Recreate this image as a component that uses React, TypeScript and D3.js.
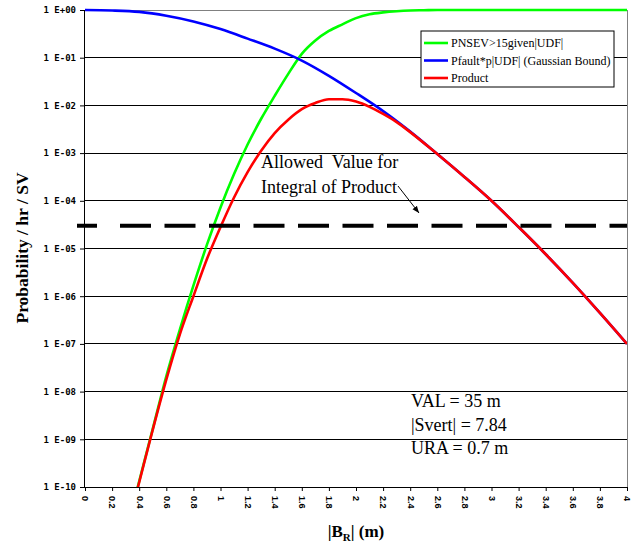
import { useRef, useEffect } from 'react'
import * as d3 from 'd3'

// values, as log10 of the probability
const xGrid = [0.3, 0.4, 0.5, 0.6, 0.7, 0.8, 0.9, 1.0, 1.1, 1.2, 1.3, 1.4, 1.5, 1.6, 1.7, 1.8, 1.9, 2.0, 2.1, 2.2, 2.3, 2.4, 2.5, 2.6]
const greenLog = [-11.0, -9.88, -8.78, -7.68, -6.70, -5.78, -4.92, -4.14, -3.44, -2.82, -2.28, -1.80, -1.34, -0.92, -0.64, -0.44, -0.30, -0.17, -0.09, -0.05, -0.025, -0.01, -0.005, 0]
const greenTailX = [2.8, 3.0, 3.2, 3.4, 3.6, 3.8, 4.0]
const greenTailLog = [0, 0, 0, 0, 0, 0, 0]

const blueX = [0, 0.2, 0.4, 0.6, 0.8, 1.0, 1.2, 1.4, 1.6, 1.8, 2.0, 2.2, 2.4, 2.6, 2.8, 3.0, 3.2, 3.4, 3.6, 3.8, 4.0]
const blueLog = [0, -0.01, -0.04, -0.12, -0.24, -0.40, -0.60, -0.81, -1.06, -1.38, -1.74, -2.12, -2.55, -3.02, -3.50, -4.00, -4.55, -5.12, -5.72, -6.35, -7.0]

const redX = [0.3, 0.4, 0.5, 0.6, 0.7, 0.8, 0.9, 1.0, 1.1, 1.2, 1.3, 1.4, 1.5, 1.6, 1.7, 1.8, 1.9, 2.0, 2.1, 2.2, 2.3, 2.4, 2.6, 2.8, 3.0, 3.2, 3.4, 3.6, 3.8, 4.0]
const redLog = [-11.0, -9.9, -8.8, -7.75, -6.8, -6.0, -5.22, -4.55, -3.93, -3.40, -2.95, -2.58, -2.30, -2.08, -1.95, -1.87, -1.87, -1.92, -2.03, -2.18, -2.35, -2.56, -3.02, -3.50, -4.00, -4.55, -5.12, -5.72, -6.35, -7.0]

const allowedValue = 3e-5

const xTickLabels = ['0', '0.2', '0.4', '0.6', '0.8', '1', '1.2', '1.4', '1.6', '1.8', '2', '2.2', '2.4', '2.6', '2.8', '3', '3.2', '3.4', '3.6', '3.8', '4']
const yTickValues = [1, 1e-1, 1e-2, 1e-3, 1e-4, 1e-5, 1e-6, 1e-7, 1e-8, 1e-9, 1e-10]
const yTickLabels = ['1 E+00', '1 E-01', '1 E-02', '1 E-03', '1 E-04', '1 E-05', '1 E-06', '1 E-07', '1 E-08', '1 E-09', '1 E-10']

const seriesNames = ['PNSEV>15given|UDF|', 'Pfault*p|UDF| (Gaussian Bound)', 'Product']
const seriesColors = ['#00ff00', '#0000ff', '#ff0000']

const notes = ['VAL = 35 m', '|Svert| = 7.84', 'URA = 0.7 m']

const serif = '"Times New Roman", "Liberation Serif", serif'

const App = () => {
    const svgRef = useRef<SVGSVGElement>(null)

    useEffect(() => {
        const w = 634
        const h = 544
        const m = { top: 10, right: 7, bottom: 57, left: 85 }
        const svg = d3.select(svgRef.current)
        svg.selectAll('*').remove()
        svg.attr('width', w).attr('height', h)

        const xScale = d3.scaleLinear().domain([0, 4]).range([m.left, w - m.right])
        const yScale = d3.scaleLog().domain([1e-10, 1]).range([h - m.bottom, m.top])
        const x0 = m.left, x1 = w - m.right, y0 = m.top, y1 = h - m.bottom

        svg.append('rect').attr('width', w).attr('height', h).attr('fill', '#fff')

        // horizontal gridlines
        svg.append('g')
            .selectAll('line')
            .data(yTickValues)
            .join('line')
                .attr('x1', x0).attr('x2', x1)
                .attr('y1', d => yScale(d)).attr('y2', d => yScale(d))
                .attr('stroke', '#000')
                .attr('stroke-width', 1)
                .attr('shape-rendering', 'crispEdges')

        // plot area border (top and right are grey)
        svg.append('line').attr('x1', x0).attr('x2', x1).attr('y1', y0).attr('y2', y0)
            .attr('stroke', '#808080').attr('shape-rendering', 'crispEdges')
        svg.append('line').attr('x1', x1).attr('x2', x1).attr('y1', y0).attr('y2', y1)
            .attr('stroke', '#808080').attr('shape-rendering', 'crispEdges')

        // axes
        const yAxis = d3.axisLeft(yScale)
            .tickValues(yTickValues)
            .tickFormat((d, i) => yTickLabels[i])
            .tickSize(5)
            .tickPadding(4)
        const gy = svg.append('g').attr('transform', `translate(${x0},0)`).call(yAxis)
        gy.select('.domain').attr('stroke', '#000').attr('d', `M-0.5,${y0}V${y1}`)
        gy.selectAll('.tick line').attr('stroke', '#000')
        gy.selectAll('.tick text')
            .attr('font-family', '"DejaVu Sans Mono", monospace')
            .attr('font-weight', 'bold')
            .attr('font-size', 9)
            .attr('fill', '#000')

        const xAxis = d3.axisBottom(xScale)
            .tickValues(xTickLabels.map(Number))
            .tickFormat((d, i) => xTickLabels[i])
            .tickSize(4)
        const gx = svg.append('g').attr('transform', `translate(0,${y1})`).call(xAxis)
        gx.select('.domain').attr('stroke', '#000').attr('d', `M${x0},0.5H${x1}`)
        gx.selectAll('.tick line').attr('stroke', '#000')
        gx.selectAll('.tick text')
            .attr('font-family', '"Liberation Sans", Arial, sans-serif')
            .attr('font-weight', 'bold')
            .attr('font-size', 9)
            .attr('fill', '#000')
            .attr('text-anchor', 'start')
            .attr('dy', '0.35em')
            .attr('transform', 'translate(0,9) rotate(90)')
            .attr('x', 0)
            .attr('y', 0)

        // curves
        svg.append('clipPath').attr('id', 'plotclip')
            .append('rect').attr('x', x0).attr('y', y0 - 2).attr('width', x1 - x0).attr('height', y1 - y0 + 2)

        const line = d3.line<[number, number]>()
            .x(d => xScale(d[0]))
            .y(d => yScale(Math.pow(10, d[1])))
            .curve(d3.curveMonotoneX)

        const green = xGrid.map((x, i) => [x, greenLog[i]] as [number, number])
            .concat(greenTailX.map((x, i) => [x, greenTailLog[i]] as [number, number]))
        const blue = blueX.map((x, i) => [x, blueLog[i]] as [number, number])
        const red = redX.map((x, i) => [x, redLog[i]] as [number, number])

        const curves = svg.append('g').attr('clip-path', 'url(#plotclip)')
        curves.selectAll('path')
            .data([green, blue, red])
            .join('path')
                .attr('d', d => line(d))
                .attr('fill', 'none')
                .attr('stroke', (d, i) => seriesColors[i])
                .attr('stroke-width', 2.6)

        // allowed value line: a short first dash poking past the axis, then a regular pattern
        const ya = yScale(allowedValue)
        const dashG = svg.append('g').attr('stroke', '#000').attr('stroke-width', 4)
        dashG.append('line')
            .attr('x1', 77).attr('x2', 97)
            .attr('y1', ya).attr('y2', ya)
        dashG.append('line')
            .attr('x1', 120).attr('x2', x1)
            .attr('y1', ya).attr('y2', ya)
            .attr('stroke-dasharray', '31 13.5')

        // annotation
        const ann = svg.append('text')
            .attr('font-family', serif)
            .attr('font-size', 18)
            .attr('fill', '#000')
            .style('white-space', 'pre')
        ann.append('tspan').attr('x', 261).attr('y', 168).text('Allowed  Value for')
        ann.append('tspan').attr('x', 261).attr('y', 193).text('Integral of Product')

        svg.append('defs').append('marker')
            .attr('id', 'arrow')
            .attr('viewBox', '0 0 10 10')
            .attr('refX', 10).attr('refY', 5)
            .attr('markerWidth', 7).attr('markerHeight', 7)
            .attr('orient', 'auto')
            .append('path').attr('d', 'M0,1L10,5L0,9Z').attr('fill', '#000')
        svg.append('line')
            .attr('x1', 398).attr('y1', 186)
            .attr('x2', 419).attr('y2', 213)
            .attr('stroke', '#000').attr('stroke-width', 1)
            .attr('marker-end', 'url(#arrow)')

        // notes
        svg.append('g')
            .selectAll('text')
            .data(notes)
            .join('text')
                .attr('x', 411)
                .attr('y', (d, i) => 407 + i * 23.5)
                .attr('font-family', serif)
                .attr('font-size', 18)
                .text(d => d)

        // legend
        const lg = svg.append('g').attr('transform', 'translate(421,31)')
        lg.append('rect').attr('width', 193).attr('height', 56)
            .attr('fill', '#fff').attr('stroke', '#000').attr('stroke-width', 1)
        const rows = lg.selectAll('g.row')
            .data(seriesNames)
            .join('g')
                .attr('class', 'row')
                .attr('transform', (d, i) => `translate(0,${12 + i * 17.5})`)
        rows.append('line')
            .attr('x1', 3).attr('x2', 27)
            .attr('stroke', (d, i) => seriesColors[i])
            .attr('stroke-width', 2.6)
        rows.append('text')
            .attr('x', 30).attr('dy', '0.35em')
            .attr('font-family', serif)
            .attr('font-size', 12)
            .text(d => d)

        // axis titles
        svg.append('text')
            .attr('transform', 'translate(28,248) rotate(-90)')
            .attr('text-anchor', 'middle')
            .attr('font-family', serif)
            .attr('font-weight', 'bold')
            .attr('font-size', 17.5)
            .text('Probability / hr / SV')

        const xt = svg.append('text')
            .attr('x', 356).attr('y', 537)
            .attr('text-anchor', 'middle')
            .attr('font-family', serif)
            .attr('font-weight', 'bold')
            .attr('font-size', 17)
        xt.append('tspan').text('|B')
        xt.append('tspan').attr('font-size', 11).attr('dy', 4).text('R')
        xt.append('tspan').attr('dy', -4).text('| (m)')
    }, [])

    return (
        <div>
            <svg ref={svgRef} style={{ position: 'absolute', left: 0, top: 0, display: 'block' }}></svg>
        </div>
    )
}

export default App
